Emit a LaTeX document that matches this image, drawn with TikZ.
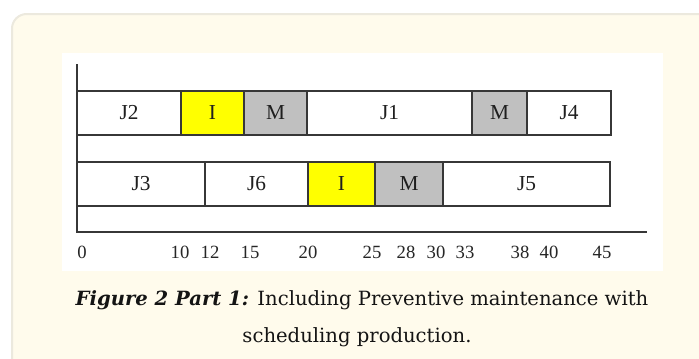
\documentclass[tikz,border=0pt]{standalone}
\usepackage{fontspec}
\setmainfont{Liberation Serif}
\newfontfamily\capfont{DejaVu Serif}
\definecolor{cardbg}{RGB}{255,251,236}
\definecolor{cardline}{RGB}{236,233,222}
\definecolor{gline}{RGB}{55,55,55}
\definecolor{idle}{RGB}{255,255,0}
\definecolor{maint}{RGB}{192,192,192}
\tikzset{
  taskbox/.style={draw=gline, line width=1.1pt, inner sep=0pt, outer sep=0pt,
    font=\fontsize{16}{19}\selectfont, text=black!88},
  tick/.style={anchor=base, inner sep=0pt, font=\fontsize{14}{16}\selectfont, text=black!85},
  capline/.style={anchor=base, inner sep=0pt, font=\capfont\fontsize{14.7}{18}\selectfont, text=black!92}
}
% one bar of the chart: name, left px, right px, top px, fill, label
\newcommand\gtask[6]{%
  \node[taskbox, fill=#5, minimum width={(#3-#2)*0.75pt}, minimum height=33pt,
    anchor=north west] (#1) at (#2,#4) {#6};}
\begin{document}
\begin{tikzpicture}[x=0.75pt,y=-0.75pt]
\useasboundingbox (0,0) rectangle (699,358);
\fill[white] (0,0) rectangle (699,358);
% card
\draw[cardline, fill=cardbg, line width=1.5pt, rounded corners=11pt] (12,14) rectangle (730,390);
\fill[white] (62,53) rectangle (663,271);
% axes
\coordinate (top) at (77,64);
\coordinate (origin) at (77,232);
\coordinate (xend) at (647,232);
\draw[gline, line width=1.1pt] (top) -- (origin) -- (xend);
% machine 1
\gtask{j2}{77}{181}{91}{white}{J2}
\gtask{i1}{181}{244}{91}{idle}{I}
\gtask{m1}{244}{307}{91}{maint}{M}
\gtask{j1}{307}{472}{91}{white}{J1}
\gtask{m2}{472}{527}{91}{maint}{M}
\gtask{j4}{527}{611}{91}{white}{J4}
% machine 2
\gtask{j3}{77}{205}{162}{white}{J3}
\gtask{j6}{205}{308}{162}{white}{J6}
\gtask{i2}{308}{375}{162}{idle}{I}
\gtask{m3}{375}{443}{162}{maint}{M}
\gtask{j5}{443}{610}{162}{white}{J5}
% time labels
\foreach \t/\x in {0/82,10/180,12/210,15/250,20/308,25/372,28/406,30/436,33/465,38/520,40/549,45/602}
  \node[tick] (t\t) at (\x,258) {\t};
% caption
\node[capline] (cap1) at (362,305) {\textbf{\textit{Figure 2 Part 1:}} Including Preventive maintenance with};
\node[capline] (cap2) at (357,342) {scheduling production.};
\end{tikzpicture}
\end{document}
